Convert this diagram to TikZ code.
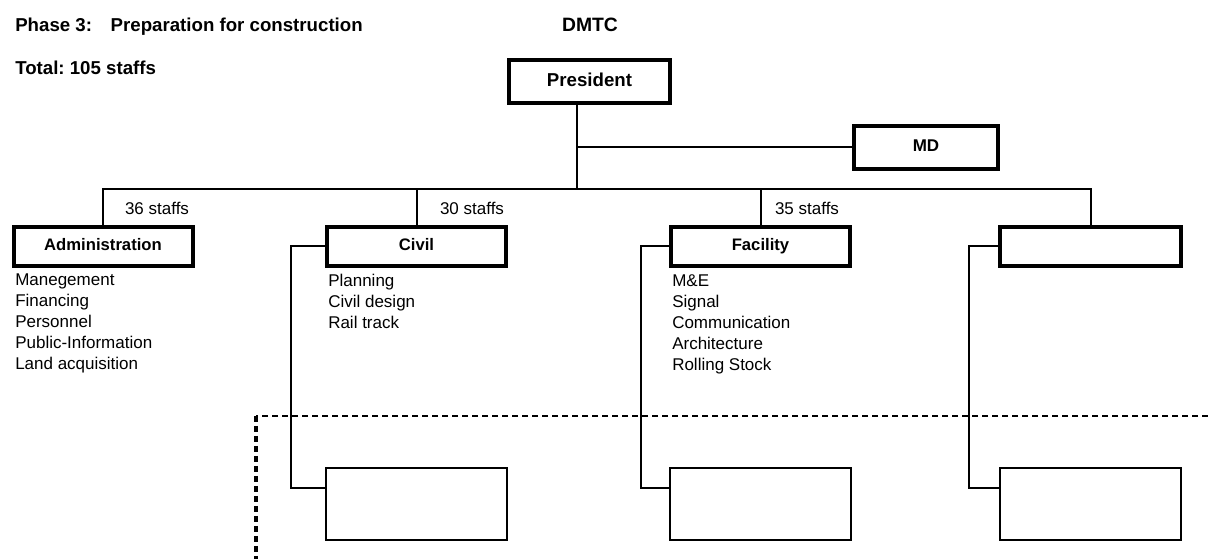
\documentclass[tikz,border=0pt]{standalone}
\usepackage{fontspec}
\setmainfont{Liberation Sans}
\frenchspacing
\begin{document}
\begin{tikzpicture}[x=0.75pt,y=-0.75pt,
  headbox/.style={draw, line width=3pt, inner sep=0, minimum width=120.75pt, minimum height=32.25pt,
    text height=10pt, text depth=2.8pt, font=\bfseries\fontsize{14}{16}\selectfont},
  mdbox/.style={draw, line width=3pt, inner sep=0, minimum width=108pt, minimum height=32.25pt,
    text height=9.2pt, text depth=2.6pt, font=\bfseries\fontsize{12.75}{15}\selectfont},
  unitbox/.style={draw, line width=3pt, inner sep=0, minimum width=134.25pt, minimum height=29.25pt,
    text height=9pt, text depth=2.6pt, font=\bfseries\fontsize{12.5}{15}\selectfont},
  subbox/.style={draw, line width=2pt, inner sep=0, minimum width=135.75pt, minimum height=54pt},
  link/.style={line width=1.5pt},
  staff/.style={font=\fontsize{12.75}{15}\selectfont, inner sep=0},
  duties/.style={font=\fontsize{12.75}{15.75}\selectfont, align=left, inner sep=0, anchor=north west},
  heading/.style={font=\bfseries\fontsize{14}{16}\selectfont, inner sep=0, anchor=base west},
  bounds/.style={dash pattern=on 4.5pt off 3pt}
]
\useasboundingbox (0,0) rectangle (1208,559);

% headings
\node[heading] (phase) at (15,32) {Phase 3:\quad Preparation for construction};
\node[heading] (total) at (15,75) {Total: 105 staffs};
\node[font=\bfseries\fontsize{14.5}{16}\selectfont, inner sep=0, anchor=base] (dmtc) at (590,32) {DMTC};

% top management
\node[headbox] (pres) at (589.5,81.5) {President};
\node[mdbox] (md) at (926,147.5) {MD};

% departments
\node[unitbox] (adm) at (103,246.5) {Administration};
\node[unitbox] (civ) at (416.5,246.5) {Civil};
\node[unitbox] (fac) at (760.5,246.5) {Facility};
\node[unitbox, minimum width=135.75pt] (dep4) at (1090.5,246.5) {};

% sub-units
\node[subbox] (civlow) at (416.5,504) {};
\node[subbox] (faclow) at (760.5,504) {};
\node[subbox] (dep4low) at (1090.5,504) {};

% trunk and bus
\coordinate (trunk) at (577,189);
\draw[link] (trunk |- pres.south) -- (trunk);
\draw[link] (trunk |- md.west) -- (md.west);
\draw[link] (adm.north) -- (adm.north |- trunk) -- (dep4.north |- trunk) -- (dep4.north);
\draw[link] (civ.north |- trunk) -- (civ.north);
\draw[link] (fac.north |- trunk) -- (fac.north);

% staff counts
\node[staff] (s36) at (157,208) {36 staffs};
\node[staff] (s30) at (472,208) {30 staffs};
\node[staff] (s35) at (807,208) {35 staffs};

% task lists
\node[duties] (admlist) at (15,274) {Manegement\\Financing\\Personnel\\Public-Information\\Land acquisition};
\node[duties] (civlist) at (328,274) {Planning\\Civil design\\Rail track};
\node[duties] (faclist) at (672,274) {M\&E\\Signal\\Communication\\Architecture\\Rolling Stock};

% side links to sub-units
\draw[link] (civ.west) -- ++(-34,0) |- ([yshift=-15.75pt]civlow.north west);
\draw[link] (fac.west) -- ++(-28,0) |- ([yshift=-15.75pt]faclow.north west);
\draw[link] (dep4.west) -- ++(-29,0) |- ([yshift=-15.75pt]dep4low.north west);

% dashed boundary
\coordinate (bcorner) at (256,416);
\coordinate (bright) at (1208,416);
\coordinate (bbottom) at (256,559);
\draw[bounds, line width=1.8pt] (bright) -- (bcorner);
\draw[bounds, line width=2.3pt] (bcorner) -- (bbottom);
\end{tikzpicture}
\end{document}
